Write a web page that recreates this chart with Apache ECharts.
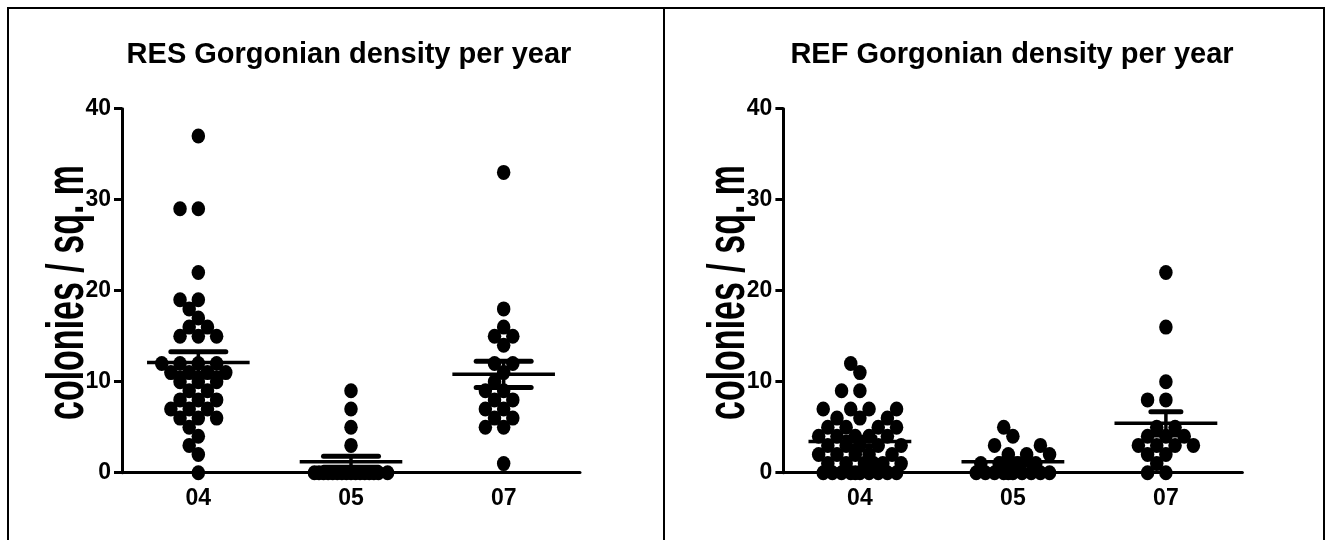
<!DOCTYPE html>
<html><head><meta charset="utf-8">
<script src="https://cdn.jsdelivr.net/npm/echarts@6/dist/echarts.min.js"></script>
<style>html,body{margin:0;padding:0;background:#fff}#c{width:1327px;height:540px}</style>
</head><body><div id="c"></div>
<script>
// ---------- data ----------
const categories = ['04', '05', '07'];
const resTitle = 'RES Gorgonian density per year';
const refTitle = 'REF Gorgonian density per year';
const yAxisName = 'colonies / sq. m';
const yMin = 0, yMax = 40, yStep = 10;

const res04 = [37, 29, 29, 22, 19, 19, 18, 17, 16, 16, 15, 15, 15, 12, 12, 12, 12, 11, 11, 11, 11, 10, 10, 10, 9, 9, 8, 8, 8, 7, 7, 7, 6, 6, 6, 5, 4, 3, 2, 0];
const res05 = [9, 7, 5, 3, 0, 0, 0, 0, 0, 0, 0, 0, 0, 0, 0, 0, 0, 0, 0, 0];
const res07 = [33, 18, 16, 15, 15, 14, 12, 12, 11, 10, 9, 9, 8, 8, 7, 7, 6, 6, 5, 5, 1];
const ref04 = [12, 11, 9, 9, 7, 7, 7, 7, 6, 6, 6, 5, 5, 5, 5, 4, 4, 4, 4, 4, 3, 3, 3, 3, 3, 2, 2, 2, 2, 2, 1, 1, 1, 1, 1, 1, 0, 0, 0, 0, 0, 0, 0, 0, 0, 0];
const ref05 = [5, 4, 3, 3, 2, 2, 2, 1, 1, 1, 1, 0, 0, 0, 0, 0, 0, 0, 0, 0, 0];
const ref07 = [22, 16, 10, 8, 8, 5, 5, 4, 4, 4, 3, 3, 3, 3, 2, 2, 1, 0, 0];

// ---------- layout helpers ----------
const FONT = "'Liberation Sans', Arial, Helvetica, sans-serif";
const PX_PER_CAT = 152.7, PX_PER_VAL = 9.1, SLOT_PX = 18.3, MIN_DIST = 11, MAX_SLOTS = 2.25;

function swarm(vals, ci) {
  const sorted = vals.slice().sort((a, b) => a - b);
  const placed = [];
  const primary = [0];
  for (let k = 0.5; k <= MAX_SLOTS + 1e-9; k += 0.5) primary.push(-k, k);
  const fine = [];
  for (let k = -MAX_SLOTS; k <= MAX_SLOTS + 1e-9; k += 0.25) fine.push(k);
  fine.sort((a, b) => Math.abs(a) - Math.abs(b));
  const minDist = (s, yp) => {
    let m = Infinity;
    for (const p of placed) { const d = Math.hypot(p.x - s * SLOT_PX, p.y - yp); if (d < m) m = d; }
    return m;
  };
  const out = [];
  for (const v of sorted) {
    const yp = v * PX_PER_VAL;
    let chosen = null;
    for (const s of primary) { if (minDist(s, yp) >= MIN_DIST) { chosen = s; break; } }
    if (chosen === null) {
      let best = -1;
      for (const s of fine) { const d = minDist(s, yp); if (d > best + 1e-6) { best = d; chosen = s; } }
    }
    placed.push({ x: chosen * SLOT_PX, y: yp });
    out.push([ci + chosen * SLOT_PX / PX_PER_CAT, v]);
  }
  return out;
}
function stats(vals) {
  const n = vals.length;
  const m = vals.reduce((a, b) => a + b, 0) / n;
  const sd = Math.sqrt(vals.reduce((a, b) => a + (b - m) * (b - m), 0) / (n - 1));
  return [m, sd / Math.sqrt(n)];
}
function meanRender(semHalf) {
  return function (params, api) {
    const ci = api.value(0), m = api.value(1), se = api.value(2);
    const mh = 0.336;
    const a = api.coord([ci - mh, m]), b = api.coord([ci + mh, m]);
    const u1 = api.coord([ci - semHalf, m + se]), u2 = api.coord([ci + semHalf, m + se]);
    const l1 = api.coord([ci - semHalf, m - se]), l2 = api.coord([ci + semHalf, m - se]);
    const c1 = api.coord([ci, m + se]), c2 = api.coord([ci, m - se]);
    const thin = { stroke: '#000', lineWidth: 3.5 };
    const thick = { stroke: '#000', lineWidth: 5, lineCap: 'round' };
    return { type: 'group', children: [
      { type: 'line', shape: { x1: a[0], y1: a[1], x2: b[0], y2: b[1] }, style: thin },
      { type: 'line', shape: { x1: c1[0], y1: c1[1], x2: c2[0], y2: c2[1] }, style: thin },
      { type: 'line', shape: { x1: u1[0], y1: u1[1], x2: u2[0], y2: u2[1] }, style: thick },
      { type: 'line', shape: { x1: l1[0], y1: l1[1], x2: l2[0], y2: l2[1] }, style: thick }
    ] };
  };
}

const panels = [
  { groups: [res04, res05, res07], grid: { left: 122, top: 108.7, width: 458, height: 364 }, semHalf: 0.18, title: resTitle, titleX: 349, nameX: 68.5 },
  { groups: [ref04, ref05, ref07], grid: { left: 783.4, top: 108.7, width: 459, height: 364 }, semHalf: 0.098, title: refTitle, titleX: 1012, nameX: 729.9 }
];

const grids = [], xAxes = [], yAxes = [], series = [], graphics = [];
panels.forEach((p, i) => {
  grids.push(p.grid);
  xAxes.push({
    gridIndex: i, type: 'category', data: categories, boundaryGap: true,
    axisLine: { onZero: false, lineStyle: { color: '#000', width: 3 } },
    axisTick: { alignWithLabel: true, length: 9, lineStyle: { color: '#000', width: 3 } },
    axisLabel: { color: '#000', fontSize: 23, fontWeight: 'bold', fontFamily: FONT, margin: 14 },
    splitLine: { show: false }
  });
  xAxes.push({ gridIndex: i, type: 'value', min: -0.5, max: 2.5, show: false });
  yAxes.push({
    gridIndex: i, type: 'value', min: yMin, max: yMax, interval: yStep,
    axisLine: { show: true, onZero: false, lineStyle: { color: '#000', width: 3 } },
    axisTick: { show: true, length: 8, lineStyle: { color: '#000', width: 3 } },
    axisLabel: { color: '#000', fontSize: 23, fontWeight: 'bold', fontFamily: FONT, margin: 11 },
    splitLine: { show: false }
  });
  const pts = [];
  p.groups.forEach((g, ci) => pts.push(...swarm(g, ci)));
  series.push({
    type: 'scatter', xAxisIndex: i * 2 + 1, yAxisIndex: i, data: pts,
    symbol: 'circle', symbolSize: [13.5, 15], clip: false, silent: true,
    itemStyle: { color: '#000', opacity: 1 }, z: 3
  });
  series.push({
    type: 'custom', xAxisIndex: i * 2 + 1, yAxisIndex: i, clip: false, silent: true, z: 4,
    data: p.groups.map((g, ci) => [ci, ...stats(g)]),
    encode: { x: 0, y: 1 },
    renderItem: meanRender(p.semHalf)
  });
  graphics.push({ type: 'text', x: p.titleX, y: 55, style: { text: p.title, textAlign: 'center', textVerticalAlign: 'middle', font: "bold 29px 'Liberation Sans', Arial, sans-serif", fill: '#000' } });
  graphics.push({ type: 'text', x: p.nameX, y: 292.5, rotation: Math.PI / 2, scaleX: 1, scaleY: 1.55,
    style: { text: yAxisName, textAlign: 'center', textVerticalAlign: 'middle', font: "bold 34px 'Liberation Sans', Arial, sans-serif", fill: '#000' } });
});

graphics.push({ type: 'polyline', shape: { points: [[8, 540], [8, 8], [1324, 8], [1324, 540]] }, style: { stroke: '#000', lineWidth: 2, fill: null } });
graphics.push({ type: 'line', shape: { x1: 664, y1: 8, x2: 664, y2: 540 }, style: { stroke: '#000', lineWidth: 2 } });

const chart = echarts.init(document.getElementById('c'), null, { renderer: 'canvas' });
chart.setOption({
  backgroundColor: '#fff',
  animation: false,
  grid: grids, xAxis: xAxes, yAxis: yAxes, series: series,
  graphic: graphics
});
</script>
</body></html>
